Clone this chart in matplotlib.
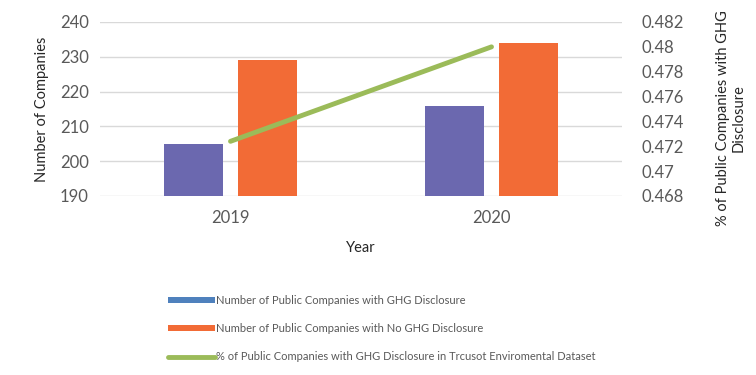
import matplotlib.pyplot as plt
from matplotlib.patches import Patch
from matplotlib.lines import Line2D
import numpy as np

plt.rcParams['font.family'] = ['Lato', 'DejaVu Sans']

# data
years = ['2019', '2020']
with_ghg = [205, 216]
no_ghg = [229, 234]
pct_ghg = [0.4724, 0.4800]

bar_purple = '#6B68AF'
legend_blue = '#4F81BD'
orange = '#F26B36'
green = '#9BBB59'
grey_txt = '#595959'

fig = plt.figure(figsize=(7.56, 3.75), dpi=100)
ax = fig.add_axes([100 / 756, 1 - 196 / 375, 522 / 756, 174 / 375])

x = np.arange(len(years))
w = 0.226
off = 0.142
ax.bar(x - off, with_ghg, w, color=bar_purple, zorder=2)
ax.bar(x + off, no_ghg, w, color=orange, zorder=2)
ax.set_xlim(-0.5, 1.5)
ax.set_ylim(190, 240)
ax.set_yticks(range(190, 241, 10))
ax.set_xticks(x)
ax.set_xticklabels(years)
ax.grid(axis='y', color='#D9D9D9', lw=1, zorder=0)
for s in ax.spines.values():
    s.set_visible(False)
ax.tick_params(length=0, labelsize=12, colors=grey_txt, pad=8)
ax.tick_params(axis='x', pad=10)
ax.set_xlabel('Year', fontsize=10.5, color='#262626', labelpad=11)
ax.set_ylabel('Number of Companies', fontsize=10.5, color='#262626', labelpad=8)

ax2 = ax.twinx()
ax2.plot(x, pct_ghg, color=green, lw=3.5, solid_capstyle='round', zorder=3)
ax2.set_ylim(0.468, 0.482)
ax2.set_yticks(np.arange(0.468, 0.4821, 0.002))
ax2.set_yticklabels(['0.468', '0.47', '0.472', '0.474', '0.476', '0.478', '0.48', '0.482'])
for s in ax2.spines.values():
    s.set_visible(False)
ax2.tick_params(length=0, labelsize=12, colors=grey_txt, pad=14)
fig.text(731 / 756, 1 - 118 / 375, '% of Public Companies with GHG\nDisclosure',
         rotation=90, ha='center', va='center', multialignment='center',
         fontsize=10.5, color='#262626', linespacing=1.1)

handles = [
    Patch(facecolor=legend_blue, edgecolor='none'),
    Patch(facecolor=orange, edgecolor='none'),
    Line2D([0], [0], color=green, lw=3.5, solid_capstyle='round'),
]
labels = [
    'Number of Public Companies with GHG Disclosure',
    'Number of Public Companies with No GHG Disclosure',
    '% of Public Companies with GHG Disclosure in Trcusot Enviromental Dataset',
]
fig.legend(handles, labels, loc='upper left', bbox_to_anchor=(158 / 756, 1 - 285 / 375),
           frameon=False, fontsize=8, labelspacing=1.55, handlelength=4.2,
           handleheight=0.5, handletextpad=0.1, labelcolor=grey_txt)

fig.savefig('out.png', dpi=100)
